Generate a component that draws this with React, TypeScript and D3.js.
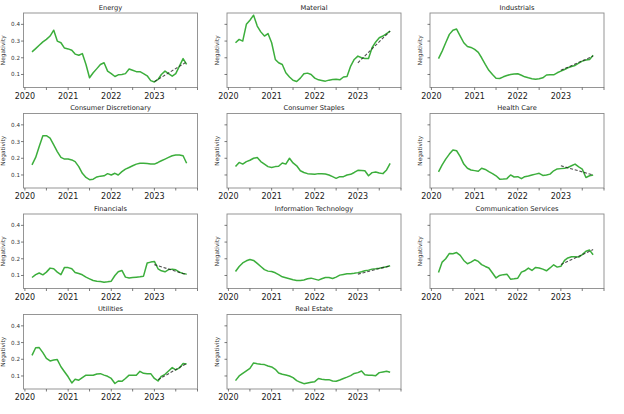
import * as d3 from 'd3'

// monthly observations, Mar 2020 .. Oct 2023
const months = d3.timeMonth.range(new Date(2020, 2, 1), new Date(2023, 10, 1))

const energy = [0.235, 0.255, 0.275, 0.295, 0.31, 0.33, 0.365, 0.3, 0.29, 0.258, 0.253, 0.245, 0.222, 0.215, 0.225, 0.16, 0.08, 0.11, 0.135, 0.16, 0.17, 0.12, 0.105, 0.088, 0.098, 0.1, 0.105, 0.133, 0.125, 0.117, 0.117, 0.105, 0.092, 0.063, 0.055, 0.07, 0.1, 0.12, 0.105, 0.09, 0.105, 0.15, 0.195, 0.16]
const material = [0.29, 0.31, 0.3, 0.4, 0.425, 0.455, 0.39, 0.355, 0.33, 0.345, 0.29, 0.19, 0.17, 0.16, 0.11, 0.085, 0.065, 0.058, 0.078, 0.104, 0.108, 0.1, 0.078, 0.068, 0.064, 0.06, 0.066, 0.07, 0.072, 0.068, 0.085, 0.088, 0.15, 0.19, 0.21, 0.2, 0.195, 0.195, 0.26, 0.295, 0.32, 0.33, 0.345, 0.36]
const industrials = [0.195, 0.24, 0.29, 0.34, 0.365, 0.372, 0.33, 0.29, 0.268, 0.262, 0.25, 0.232, 0.2, 0.16, 0.125, 0.1, 0.078, 0.076, 0.086, 0.094, 0.1, 0.103, 0.104, 0.095, 0.086, 0.08, 0.075, 0.071, 0.074, 0.08, 0.097, 0.098, 0.098, 0.11, 0.12, 0.13, 0.14, 0.148, 0.154, 0.168, 0.18, 0.186, 0.19, 0.215]
const consumerDiscretionary = [0.16, 0.205, 0.27, 0.335, 0.335, 0.32, 0.28, 0.24, 0.205, 0.195, 0.195, 0.19, 0.18, 0.15, 0.11, 0.085, 0.072, 0.075, 0.088, 0.093, 0.095, 0.108, 0.1, 0.11, 0.1, 0.12, 0.135, 0.145, 0.155, 0.165, 0.17, 0.17, 0.168, 0.165, 0.165, 0.175, 0.185, 0.195, 0.205, 0.215, 0.22, 0.22, 0.215, 0.17]
const consumerStaples = [0.15, 0.175, 0.165, 0.18, 0.188, 0.2, 0.205, 0.18, 0.165, 0.15, 0.145, 0.15, 0.152, 0.172, 0.165, 0.2, 0.172, 0.155, 0.125, 0.115, 0.108, 0.106, 0.104, 0.108, 0.108, 0.106, 0.1, 0.09, 0.08, 0.09, 0.09, 0.1, 0.104, 0.115, 0.128, 0.127, 0.125, 0.095, 0.114, 0.118, 0.112, 0.108, 0.13, 0.17]
const healthCare = [0.118, 0.16, 0.195, 0.225, 0.25, 0.245, 0.21, 0.165, 0.14, 0.13, 0.126, 0.122, 0.14, 0.133, 0.12, 0.108, 0.095, 0.075, 0.076, 0.078, 0.1, 0.088, 0.09, 0.078, 0.09, 0.094, 0.1, 0.105, 0.11, 0.097, 0.1, 0.105, 0.125, 0.136, 0.138, 0.14, 0.145, 0.155, 0.165, 0.148, 0.135, 0.085, 0.095, 0.1]
const financials = [0.088, 0.105, 0.115, 0.104, 0.12, 0.144, 0.14, 0.12, 0.105, 0.148, 0.147, 0.14, 0.118, 0.112, 0.104, 0.09, 0.08, 0.07, 0.066, 0.064, 0.06, 0.062, 0.066, 0.1, 0.122, 0.13, 0.09, 0.085, 0.088, 0.09, 0.092, 0.096, 0.175, 0.18, 0.184, 0.14, 0.128, 0.122, 0.135, 0.138, 0.134, 0.12, 0.112, 0.108]
const informationTechnology = [0.124, 0.154, 0.175, 0.188, 0.196, 0.19, 0.172, 0.154, 0.135, 0.126, 0.124, 0.116, 0.105, 0.092, 0.086, 0.08, 0.074, 0.07, 0.07, 0.073, 0.08, 0.084, 0.078, 0.072, 0.08, 0.088, 0.088, 0.082, 0.09, 0.102, 0.106, 0.11, 0.11, 0.113, 0.117, 0.122, 0.128, 0.132, 0.138, 0.14, 0.143, 0.148, 0.152, 0.158]
const communicationServices = [0.118, 0.18, 0.2, 0.232, 0.23, 0.237, 0.22, 0.19, 0.17, 0.18, 0.194, 0.184, 0.165, 0.154, 0.145, 0.115, 0.085, 0.1, 0.105, 0.108, 0.078, 0.08, 0.084, 0.12, 0.128, 0.144, 0.13, 0.148, 0.145, 0.138, 0.128, 0.145, 0.164, 0.15, 0.155, 0.19, 0.205, 0.212, 0.212, 0.21, 0.225, 0.245, 0.252, 0.224]
const utilities = [0.223, 0.269, 0.27, 0.24, 0.205, 0.19, 0.195, 0.198, 0.155, 0.125, 0.095, 0.058, 0.08, 0.075, 0.09, 0.105, 0.104, 0.104, 0.112, 0.114, 0.105, 0.098, 0.085, 0.055, 0.07, 0.068, 0.085, 0.105, 0.105, 0.104, 0.128, 0.116, 0.114, 0.114, 0.085, 0.07, 0.098, 0.11, 0.13, 0.15, 0.136, 0.148, 0.175, 0.172]
const realEstate = [0.072, 0.1, 0.115, 0.13, 0.145, 0.178, 0.173, 0.17, 0.168, 0.16, 0.154, 0.14, 0.118, 0.11, 0.106, 0.1, 0.09, 0.072, 0.062, 0.054, 0.058, 0.062, 0.066, 0.085, 0.08, 0.078, 0.078, 0.07, 0.068, 0.076, 0.085, 0.093, 0.102, 0.115, 0.12, 0.13, 0.108, 0.105, 0.104, 0.102, 0.12, 0.124, 0.128, 0.122]

// 2023 linear trends: [start month, start value, end value] ending Oct 2023
type Trend = [string, number, number]
const energyTrend: Trend = ['2023-01', 0.057, 0.175]
const materialTrend: Trend = ['2023-01', 0.17, 0.36]
const industrialsTrend: Trend = ['2023-01', 0.125, 0.21]
const healthCareTrend: Trend = ['2023-01', 0.155, 0.1]
const financialsTrend: Trend = ['2023-01', 0.165, 0.105]
const itTrend: Trend = ['2023-01', 0.108, 0.158]
const commTrend: Trend = ['2023-01', 0.165, 0.255]
const utilitiesTrend: Trend = ['2023-02', 0.078, 0.175]

const yTicks = [0.1, 0.2, 0.3, 0.4]

const sectors: { name: string; values: number[]; trend?: Trend }[] = [
  { name: 'Energy', values: energy, trend: energyTrend },
  { name: 'Material', values: material, trend: materialTrend },
  { name: 'Industrials', values: industrials, trend: industrialsTrend },
  { name: 'Consumer Discretionary', values: consumerDiscretionary },
  { name: 'Consumer Staples', values: consumerStaples },
  { name: 'Health Care', values: healthCare, trend: healthCareTrend },
  { name: 'Financials', values: financials, trend: financialsTrend },
  { name: 'Information Technology', values: informationTechnology, trend: itTrend },
  { name: 'Communication Services', values: communicationServices, trend: commTrend },
  { name: 'Utilities', values: utilities, trend: utilitiesTrend },
  { name: 'Real Estate', values: realEstate },
]

const WIDTH = 624
const HEIGHT = 414
const COL_X = [23.5, 227, 430]
const ROW_Y = [13, 113.5, 214, 314.5]
const PANEL_W = 174
const PANEL_H = 74.5
const FONT = '"DejaVu Sans", sans-serif'
const GREEN = '#3cae3c'

const parseMonth = d3.timeParse('%Y-%m')
const endMonth = months[months.length - 1]

function Panel({ name, values, trend, col, row }: {
  name: string
  values: number[]
  trend?: Trend
  col: number
  row: number
}) {
  const x = d3.scaleTime()
    .domain([new Date(2019, 11, 20), new Date(2024, 0, 1)])
    .range([0, PANEL_W])
  const y = d3.scaleLinear().domain([0.022, 0.468]).range([PANEL_H, 0])

  const line = d3.line<number>()
    .x((_, i) => x(months[i]))
    .y((v) => y(v))

  const xTicks = x.ticks(d3.timeMonth.every(6)!)
  const yearFmt = d3.timeFormat('%Y')

  return (
    <g transform={`translate(${COL_X[col]} ${ROW_Y[row]})`}>
      <text
        x={PANEL_W / 2}
        y={-3.5}
        textAnchor="middle"
        fontSize={6.7}
        fill="#1a1a1a"
      >
        {name}
      </text>

      <path d={line(values) ?? ''} fill="none" stroke={GREEN} strokeWidth={1.5} strokeLinejoin="round" />

      {trend && (
        <line
          x1={x(parseMonth(trend[0])!)}
          y1={y(trend[1])}
          x2={x(endMonth)}
          y2={y(trend[2])}
          stroke="#222"
          strokeOpacity={0.8}
          strokeWidth={1.1}
          strokeDasharray="3 1.8"
        />
      )}

      <rect x={0} y={0} width={PANEL_W} height={PANEL_H} fill="none" stroke="#8a8a8a" strokeWidth={0.9} />

      {xTicks.map((t) => (
        <g key={t.getTime()} transform={`translate(${x(t)} ${PANEL_H})`}>
          <line y2={2.5} stroke="#444" strokeWidth={0.7} />
          {t.getMonth() === 0 && t.getFullYear() < 2024 && (
            <text y={11.3} textAnchor="middle" fontSize={8} fill="#1a1a1a">
              {yearFmt(t)}
            </text>
          )}
        </g>
      ))}

      {yTicks.map((t) => (
        <g key={t} transform={`translate(0 ${y(t)})`}>
          <line x2={-2.5} stroke="#444" strokeWidth={0.7} />
          {col === 0 && (
            <text x={-3.5} dy="0.35em" textAnchor="end" fontSize={5.6} fill="#333">
              {t.toFixed(1)}
            </text>
          )}
        </g>
      ))}

      <text
        transform={`translate(${col === 0 ? -18.5 : -8.5} ${PANEL_H / 2}) rotate(-90)`}
        textAnchor="middle"
        fontSize={5.8}
        fill="#333"
      >
        Negativity
      </text>
    </g>
  )
}

export default function App() {
  return (
    <svg
      width={WIDTH}
      height={HEIGHT}
      viewBox={`0 0 ${WIDTH} ${HEIGHT}`}
      style={{ position: 'absolute', left: 0, top: 0, background: '#fff' }}
      fontFamily={FONT}
    >
      <rect width={WIDTH} height={HEIGHT} fill="#fff" />
      {sectors.map((s, i) => (
        <Panel
          key={s.name}
          name={s.name}
          values={s.values}
          trend={s.trend}
          col={i % 3}
          row={Math.floor(i / 3)}
        />
      ))}
    </svg>
  )
}
